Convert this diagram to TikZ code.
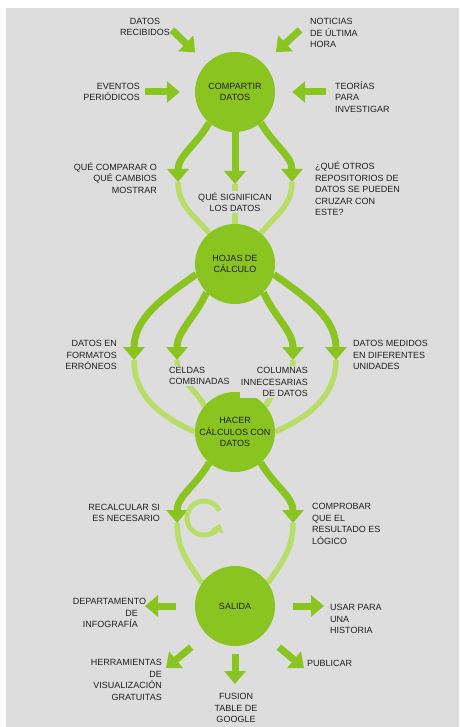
\documentclass[tikz,border=0pt]{standalone}
\usepackage{fontspec}
\setmainfont{Liberation Sans}
\usetikzlibrary{arrows.meta,backgrounds}
\definecolor{leaf}{RGB}{137,196,32}
\definecolor{sprout}{RGB}{184,222,104}
\definecolor{paper}{RGB}{221,221,221}
\definecolor{ink}{RGB}{35,31,32}

\begin{document}
\begin{tikzpicture}[x=1pt,y=1pt,
  stage/.style={circle,fill=leaf,minimum size=80pt,align=center},
  lbl/.style={text=ink,font=\fontsize{9}{11.5}\selectfont},
  cover/.style={lbl,fill=paper,inner sep=1pt},
  ray/.style={draw=leaf,line width=7pt,-{Triangle[width=21pt,length=13pt]}},
  pale/.style={draw=sprout,line width=5.5pt}]
\tikzstyle{every node}+=[inner sep=0pt]
\useasboundingbox (0,0) rectangle (459,-727);
\node [stage,lbl] (comp) at (235,-92) {COMPARTIR\\DATOS};
\node [stage,lbl] (hoja) at (235,-264) {HOJAS DE\\CÁLCULO};
\node [stage,lbl] (hacer) at (235,-432) {HACER\\CÁLCULOS CON\\DATOS};
\node [stage,lbl] (sal) at (235,-606) {SALIDA};
\node [lbl,align=center] (datrec) at (145,-27) {DATOS\\RECIBIDOS};
\node [lbl,align=left,anchor=west] (notic) at (310,-33) {NOTICIAS\\DE ÚLTIMA\\HORA};
\node [lbl,align=right,anchor=east] (event) at (140,-92) {EVENTOS\\PERIÓDICOS};
\node [lbl,align=left,anchor=west] (teor) at (335,-97) {TEORÍAS\\PARA\\INVESTIGAR};
\node [lbl,align=right,anchor=east] (quecomp) at (157,-178) {QUÉ COMPARAR O\\QUÉ CAMBIOS\\MOSTRAR};
\node [lbl,align=left,anchor=west] (otros) at (315,-189) {¿QUÉ OTROS\\REPOSITORIOS DE\\DATOS SE PUEDEN\\CRUZAR CON\\ESTE?};
\node [cover,align=center] (signif) at (235,-202) {QUÉ SIGNIFICAN\\LOS DATOS};
\node [lbl,align=right,anchor=east] (formatos) at (117,-355) {DATOS EN\\FORMATOS\\ERRÓNEOS};
\node [cover,align=left,anchor=west] (celdas) at (168,-376) {CELDAS\\COMBINADAS};
\node [cover,align=right,anchor=east] (columnas) at (309,-382) {COLUMNAS\\INNECESARIAS\\DE DATOS};
\node [lbl,align=left,anchor=west] (medidos) at (353,-355) {DATOS MEDIDOS\\EN DIFERENTES\\UNIDADES};
\node [lbl,align=right,anchor=east] (recalc) at (160,-513) {RECALCULAR SI\\ES NECESARIO};
\node [lbl,align=left,anchor=west] (comprob) at (312,-524) {COMPROBAR\\QUE EL\\RESULTADO ES\\LÓGICO};
\node [lbl,align=right,anchor=east] (depto) at (138,-613) {\makebox[65pt][l]{DEPARTAMENTO}\\DE\\INFOGRAFÍA};
\node [lbl,align=left,anchor=west] (usar) at (330,-619) {USAR PARA\\UNA\\HISTORIA};
\node [lbl,align=right,anchor=east] (herram) at (162,-680) {HERRAMIENTAS\\DE\\VISUALIZACIÓN\\GRATUITAS};
\node [lbl,align=center] (fusion) at (236,-708) {FUSION\\TABLE DE\\GOOGLE};
\node [lbl,align=left,anchor=west] (publicar) at (307,-663) {PUBLICAR};
\coordinate (fromRec) at (172,-30);
\coordinate (fromNot) at (300,-30);
\coordinate (fromEv) at (145,-92);
\coordinate (fromTeo) at (326,-92);
\coordinate (tipA) at (178,-182);
\coordinate (tipB) at (235,-184);
\coordinate (tipC) at (292,-182);
\coordinate (tipD) at (134,-360);
\coordinate (tipE) at (177,-360);
\coordinate (tipF) at (293,-360);
\coordinate (tipG) at (336,-360);
\coordinate (tipH) at (177,-523);
\coordinate (tipI) at (293,-523);
\coordinate (toDep) at (145,-606);
\coordinate (toUsar) at (324,-606);
\coordinate (toHerr) at (166,-668);
\coordinate (toFus) at (235,-684);
\coordinate (toPub) at (304,-668);
\draw [ray,shorten >=16pt] (fromRec) -- (comp.135);
\draw [ray,shorten >=17pt] (fromNot) -- (comp.45);
\draw [ray,shorten >=15pt] (fromEv) -- (comp.west);
\draw [ray,shorten >=17pt] (fromTeo) -- (comp.east);
\draw [ray,shorten <=19pt] (sal.west) -- (toDep);
\draw [ray,shorten <=18pt] (sal.east) -- (toUsar);
\draw [ray,shorten <=20pt] (sal.225) -- (toHerr);
\draw [ray,shorten <=8pt] (sal.south) -- (toFus);
\draw [ray,shorten <=20pt] (sal.315) -- (toPub);
\begin{scope}[on background layer]
\fill [paper] (6,-8) rectangle (459,-727);
\draw [pale] (tipA) to[out=270,in=130] (hoja.130);
\draw [ray] (comp.230) to[out=240,in=90] (tipA);
\draw [pale] (tipB) -- (hoja.north);
\draw [ray] (comp.south) -- (tipB);
\draw [pale] (tipC) to[out=270,in=50] (hoja.50);
\draw [ray] (comp.310) to[out=300,in=90] (tipC);
\draw [pale] (tipD) to[out=270,in=155] (hacer.180);
\draw [ray] (hoja.195) to[out=215,in=90] (tipD);
\draw [pale] (tipE) to[out=270,in=115] (hacer.140);
\draw [ray] (hoja.225) to[out=245,in=90] (tipE);
\draw [pale] (tipF) to[out=270,in=65] (hacer.40);
\draw [ray] (hoja.315) to[out=295,in=90] (tipF);
\draw [pale] (tipG) to[out=270,in=25] (hacer.0);
\draw [ray] (hoja.345) to[out=325,in=90] (tipG);
\draw [pale] (tipH) to[out=270,in=125] (sal.145);
\draw [ray] (hacer.230) to[out=240,in=90] (tipH);
\draw [pale] (tipI) to[out=270,in=55] (sal.35);
\draw [ray] (hacer.310) to[out=300,in=90] (tipI);
\draw [pale,line width=5pt,-{Triangle[width=13pt,length=8pt]}] (204,-518) ++(25:17) arc [start angle=25,end angle=340,radius=17];
\end{scope}
\end{tikzpicture}
\end{document}
